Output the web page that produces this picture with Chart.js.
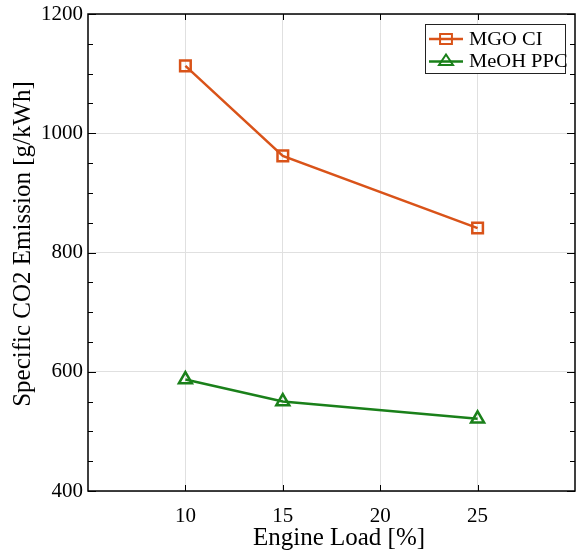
<!DOCTYPE html>
<html>
<head>
<meta charset="utf-8">
<script src="https://cdn.jsdelivr.net/npm/chart.js@4/dist/chart.umd.min.js"></script>
<style>
  body { margin: 0; background: #fff; }
  #chart0 { display: block; }
</style>
</head>
<body>
<canvas id="chart0" width="577" height="555"></canvas>
<script>
// engine load [%]
const loads = [10, 15, 25];
// specific CO2 emission [g/kWh]
const mgoCI = [1113, 962, 841];
const meohPPC = [587, 550, 521];
const seriesNames = ["MGO CI", "MeOH PPC"];
const xTickLabels = [10, 15, 20, 25];
const yTickLabels = [400, 600, 800, 1000, 1200];
const xTitle = "Engine Load [%]";
const yTitle = "Specific CO2 Emission [g/kWh]";

const orange = "#D95319";
const green = "#1a801a";
const serif = "'Liberation Serif', 'Times New Roman', serif";

let ctx = document.getElementById("chart0").getContext("2d");

function toPoints(xs, ys) {
  return xs.map((x, i) => ({ x: x, y: ys[i] }));
}

function line(c, x1, y1, x2, y2) {
  c.beginPath();
  c.moveTo(x1, y1);
  c.lineTo(x2, y2);
  c.stroke();
}

function drawMarker(c, style, x, y, r) {
  c.beginPath();
  if (style === "rect") {
    let s = r * Math.SQRT1_2;
    c.rect(x - s * 1.2, y - s, 2.4 * s, 2 * s);
  } else {
    c.moveTo(x, y - r);
    c.lineTo(x + r * 1.0, y + r * 0.5);
    c.lineTo(x - r * 1.0, y + r * 0.5);
    c.closePath();
  }
  c.stroke();
}

// box, inward ticks, axis titles and the legend
const framePlugin = {
  id: "frame",
  afterDraw(chart) {
    const c = chart.ctx;
    const { left, right, top, bottom } = chart.chartArea;
    const xs = chart.scales.x, ys = chart.scales.y;
    c.save();
    c.strokeStyle = "#000";
    c.lineWidth = 1;
    ys.ticks.forEach(t => {
      let y = Math.round(ys.getPixelForValue(t.value)) + 0.5;
      let len = yTickLabels.includes(t.value) ? 8 : 5;
      line(c, left, y, left + len, y);
      line(c, right, y, right - len, y);
    });
    xs.ticks.forEach(t => {
      if (!xTickLabels.includes(t.value)) return;
      let x = Math.round(xs.getPixelForValue(t.value)) + 0.5;
      line(c, x, bottom, x, bottom - 6);
      line(c, x, top, x, top + 6);
    });
    c.lineWidth = 1.5;
    c.strokeRect(left, top, right - left, bottom - top);

    // axis titles
    c.fillStyle = "#000";
    c.font = "25px " + serif;
    c.textAlign = "center";
    c.textBaseline = "alphabetic";
    c.fillText(xTitle, 339, 545);
    c.save();
    c.translate(30, 244);
    c.rotate(-Math.PI / 2);
    c.fillText(yTitle, 0, 0);
    c.restore();

    // legend
    const lx = 425, ly = 24, lw = 140, lh = 49;
    c.fillStyle = "#fff";
    c.fillRect(lx, ly, lw, lh);
    c.lineWidth = 1;
    c.strokeStyle = "#222";
    c.strokeRect(lx + 0.5, ly + 0.5, lw, lh);
    const rows = [
      { name: seriesNames[0], color: orange, style: "rect", y: 39 },
      { name: seriesNames[1], color: green, style: "triangle", y: 61.5 }
    ];
    c.font = "18px " + serif;
    c.textAlign = "left";
    c.textBaseline = "middle";
    rows.forEach(r => {
      c.strokeStyle = r.color;
      c.lineWidth = 2.5;
      line(c, 429, r.y, 463, r.y);
      c.lineWidth = 2;
      drawMarker(c, r.style, 446, r.y, 7);
      c.fillStyle = "#000";
      c.save();
      c.translate(469, r.y + 1);
      c.scale(1.14, 1);
      c.fillText(r.name, 0, 0);
      c.restore();
    });
    c.restore();
  }
};

let chart = new Chart(ctx, {
  type: "line",
  data: {
    datasets: [
      {
        label: seriesNames[0],
        data: toPoints(loads, mgoCI),
        borderColor: orange,
        borderWidth: 2.5,
        pointStyle: "rect",
        pointRadius: 7.5,
        pointBorderWidth: 2.5,
        pointBackgroundColor: "rgba(0,0,0,0)",
        pointBorderColor: orange,
        tension: 0
      },
      {
        label: seriesNames[1],
        data: toPoints(loads, meohPPC),
        borderColor: green,
        borderWidth: 2.5,
        pointStyle: "triangle",
        pointRadius: 7.5,
        pointBorderWidth: 2.5,
        pointBackgroundColor: "rgba(0,0,0,0)",
        pointBorderColor: green,
        tension: 0
      }
    ]
  },
  options: {
    responsive: false,
    animation: false,
    devicePixelRatio: 1,
    layout: {
      autoPadding: false,
      padding: { top: 14, right: 2, left: 0, bottom: 0 }
    },
    plugins: {
      legend: { display: false },
      tooltip: { enabled: false }
    },
    scales: {
      x: {
        type: "linear",
        min: 5,
        max: 30,
        afterFit(scale) {
          scale.height = 64;
          scale.paddingLeft = 0;
          scale.paddingRight = 0;
        },
        border: { display: false },
        grid: {
          drawTicks: false,
          color: c => (xTickLabels.includes(c.tick.value) ? "#e0e0e0" : "rgba(0,0,0,0)")
        },
        ticks: {
          stepSize: 5,
          autoSkip: false,
          maxRotation: 0,
          padding: 13,
          color: "#000",
          font: { family: serif, size: 21 },
          callback: v => (xTickLabels.includes(v) ? v : "")
        }
      },
      y: {
        min: 400,
        max: 1200,
        afterFit(scale) {
          scale.width = 88;
          scale.paddingTop = 0;
          scale.paddingBottom = 0;
        },
        border: { display: false },
        grid: {
          drawTicks: false,
          color: c => (yTickLabels.includes(c.tick.value) ? "#e0e0e0" : "rgba(0,0,0,0)")
        },
        ticks: {
          stepSize: 50,
          autoSkip: false,
          padding: 5,
          color: "#000",
          font: { family: serif, size: 21 },
          callback: v => (yTickLabels.includes(v) ? v : "")
        }
      }
    }
  },
  plugins: [framePlugin]
});
</script>
</body>
</html>
